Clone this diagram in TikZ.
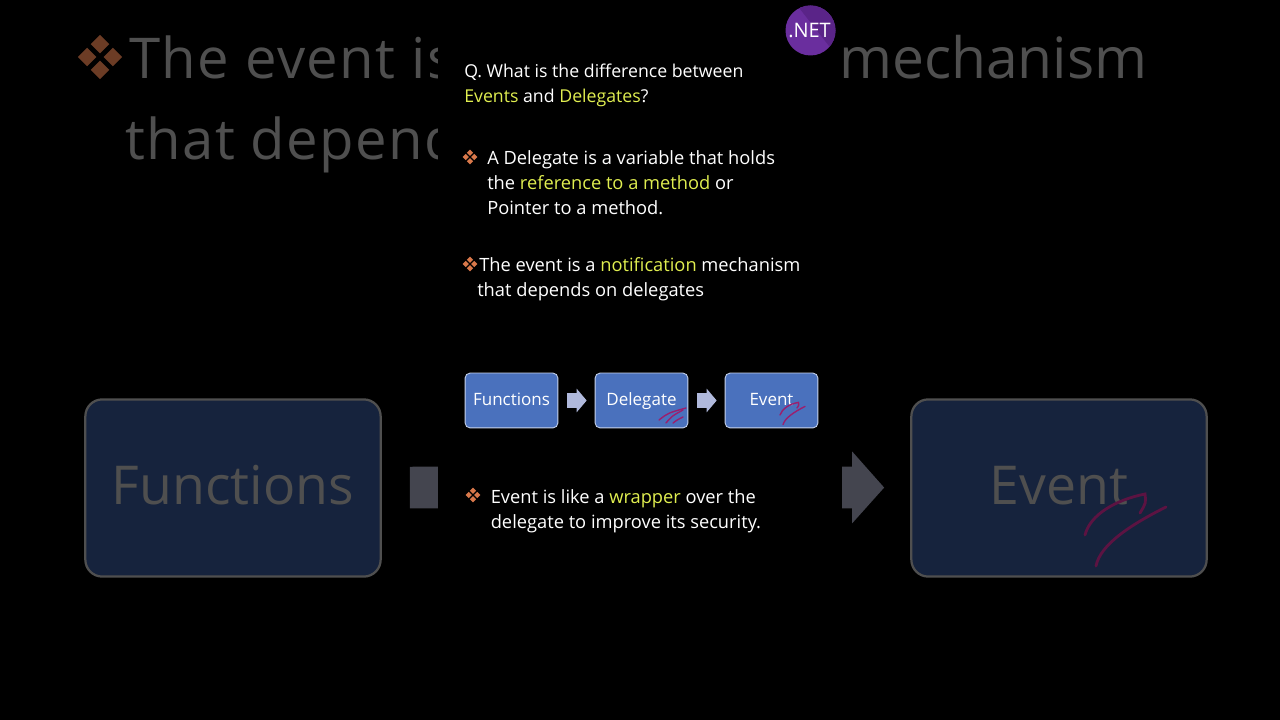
\documentclass[tikz,border=0pt]{standalone}
\usepackage{fontspec}
\setmainfont{Open Sans}
\usetikzlibrary{arrows.meta}
\definecolor{hilite}{HTML}{E0EE50}
\definecolor{boxblue}{HTML}{4A71BD}
\definecolor{boxline}{HTML}{C8D4EC}
\definecolor{arrowblue}{HTML}{B0B9DC}
\definecolor{dimblue}{HTML}{16233D}
\definecolor{dimgrey}{HTML}{4F4F4F}
\definecolor{dimshaft}{HTML}{44454F}
\definecolor{bulletorange}{HTML}{D9784A}
\definecolor{inkpurple}{HTML}{9A1F6E}
\definecolor{badgelight}{HTML}{6A2E9E}
\definecolor{badgedark}{HTML}{5A2488}
\newcommand{\hl}[1]{\textcolor{hilite}{#1}}
\tikzset{
  bodytext/.style={anchor=base west, inner sep=0pt, text=white, font=\fontsize{13}{16}\selectfont},
  titletext/.style={bodytext, font=\fontsize{12.6}{16}\selectfont},
  dimtext/.style={anchor=base west, inner sep=0pt, text=dimgrey, font=\fontsize{40.5}{48}\selectfont},
  dimwide/.style={dimtext, font=\fontsize{40}{48}\selectfont\addfontfeature{LetterSpace=2.5}},
  flowbox/.style={draw=boxline, line width=0.6pt, fill=boxblue, rounded corners=3.5pt, text=white,
    minimum width=66pt, minimum height=39pt, inner sep=0pt, text height=9.7pt, text depth=2.6pt,
    font=\fontsize{12.1}{14}\selectfont},
  dimbox/.style={draw=dimgrey, line width=1.6pt, fill=dimblue, rounded corners=12pt, text=dimgrey,
    minimum width=210pt, minimum height=126pt, inner sep=0pt, text height=32pt, text depth=8.6pt,
    font=\fontsize{38.1}{44}\selectfont},
  flowarrow/.style={line width=10pt, draw=arrowblue, -{Triangle[length=7.1pt, width=16.4pt]},
    shorten <=6.4pt, shorten >=5.7pt},
  dimarrow/.style={line width=29.6pt, draw=dimshaft},
  ink/.style={draw=inkpurple, line width=1pt, line cap=round},
  diminked/.style={ink, draw=inkpurple!60!black, line width=2pt},
  quadbullet/.pic={
    \foreach \dx/\dy in {1/0,-1/0,0/1,0/-1}
      \fill[pic actions] (\dx*4.3-3.1,\dy*4.3) -- ++(3.1,-3.1) -- ++(3.1,3.1) -- ++(-3.1,3.1) -- cycle;
  }
}
\begin{document}
\begin{tikzpicture}[x=0.025cm, y=-0.025cm]
  \useasboundingbox (0,0) rectangle (1280,720);
  \fill[black] (0,0) rectangle (1280,720);
  % Dimmed slide behind
  \node[dimwide] (bgline1) at (129,79) {The event is};
  \node[dimtext] (bgline1b) at (839,79) {mechanism};
  \node[dimwide] (bgline2) at (125,159.5) {that depend};
  \node[dimbox] (bgfn) at (233,488) {Functions};
  \node[dimbox] (bgev) at (1059,488) {Event};
  \coordinate (bgmid) at (640,487);
  \draw[dimarrow, shorten <=20pt] (bgfn) -- (bgmid);
  \draw[dimarrow, shorten >=18.5pt, -{Triangle[length=22.8pt, width=49.8pt]}] (bgmid) -- (bgev);
  \pic[fill=bulletorange!50!black, scale=3] at (100,57) {quadbullet};
  \draw[diminked] (1085,535) .. controls (1090,515) and (1115,500) .. (1145,494) .. controls (1146,503) .. (1140,513);
  \draw[diminked] (1166,507) .. controls (1130,525) and (1100,545) .. (1096,566);
  % Centre panel
  \fill[black] (438,0) rectangle (842,720);
  % Badge
  \fill[badgelight] (810.5,30.5) circle (25);
  \begin{scope}
    \clip (810.5,30.5) circle (25);
    \fill[badgedark] (796,4) -- (840,60) -- (840,0) -- cycle;
  \end{scope}
  \node[circle, inner sep=0pt, text=white, font=\fontsize{14.2}{16}\selectfont] (badge) at (809.5,31) {.NET};
  % Question
  \node[titletext] (q1) at (464,78) {Q. What is the difference between};
  \node[titletext] (q2) at (464,103) {\hl{Events} and \hl{Delegates}?};
  % Delegate text
  \pic[fill=bulletorange] at (470,157) {quadbullet};
  \node[bodytext] (a1) at (487,165) {A Delegate is a variable that holds};
  \node[bodytext] (a2) at (487,190) {the \hl{reference to a method} or};
  \node[bodytext] (a3) at (487,215) {Pointer to a method.};
  % Event text
  \pic[fill=bulletorange] at (470,264) {quadbullet};
  \node[bodytext] (b1) at (479,272) {The event is a \hl{notification} mechanism};
  \node[bodytext] (b2) at (477,297) {that depends on delegates};
  % Flow
  \node[flowbox] (fn) at (511.5,400.5) {Functions};
  \node[flowbox] (dg) at (641.5,400.5) {Delegate};
  \node[flowbox] (ev) at (771.5,400.5) {Event};
  \draw[flowarrow] (fn) -- (dg);
  \draw[flowarrow] (dg) -- (ev);
  % Pen marks
  \draw[ink] (659,420) .. controls (668,413) .. (686,408);
  \draw[ink] (666,423) .. controls (672,416) .. (683,410);
  \draw[ink] (673,423) .. controls (677,420) .. (683,417);
  \draw[ink] (780,415) .. controls (782,409) and (789,404) .. (798.5,402.4) .. controls (799,405) .. (797,408);
  \draw[ink] (805,406.4) .. controls (794,412) and (785,418) .. (783,424.6);
  % Wrapper text
  \pic[fill=bulletorange] at (473,495) {quadbullet};
  \node[bodytext] (c1) at (490.5,503) {Event is like a \hl{wrapper} over the};
  \node[bodytext] (c2) at (490.5,528) {delegate to improve its security.};
\end{tikzpicture}
\end{document}
